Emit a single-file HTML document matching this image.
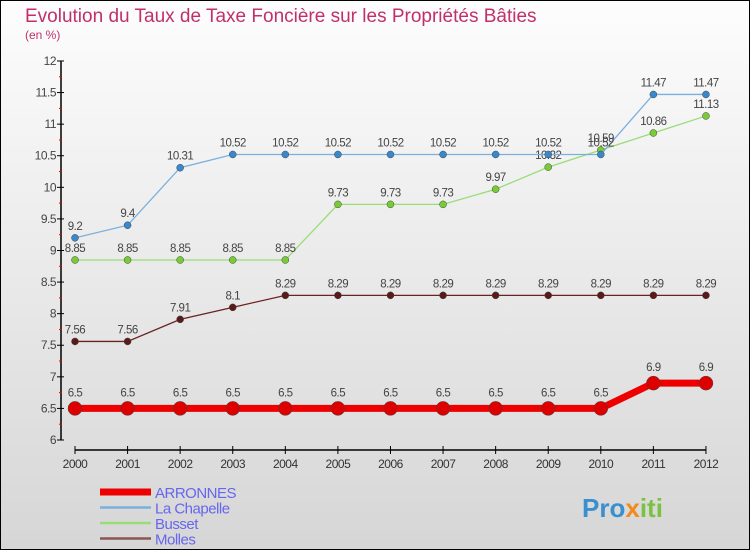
<!DOCTYPE html>
<html><head><meta charset="utf-8"><style>
html,body{margin:0;padding:0}
body{width:750px;height:550px;overflow:hidden;font-family:"Liberation Sans",sans-serif}
svg{display:block}
</style></head><body>
<svg id="chart" width="750" height="550" viewBox="0 0 750 550">
<defs><linearGradient id="bg" x1="0" y1="0" x2="0" y2="1"><stop offset="0" stop-color="#fdfdfd"/><stop offset="1" stop-color="#d6d6d6"/></linearGradient></defs>
<rect x="0.5" y="0.5" width="749" height="549" fill="url(#bg)" stroke="#000"/>
<text x="25" y="22" font-size="19" fill="#c0306a">Evolution du Taux de Taxe Foncière sur les Propriétés Bâties</text>
<text x="25" y="39" font-size="12" fill="#c0306a">(en %)</text>
<g id="axes"></g><g id="series"></g><g id="legend"></g>
<text x="582" y="517" font-size="26" font-weight="bold" fill="#3a8fd0">Pro<tspan fill="#f08a1c">x</tspan><tspan fill="#7cc242">iti</tspan></text>
</svg>
<script>
const years=[2000,2001,2002,2003,2004,2005,2006,2007,2008,2009,2010,2011,2012];
const yTicks=[6,6.5,7,7.5,8,8.5,9,9.5,10,10.5,11,11.5,12];
const arronnes=[6.5,6.5,6.5,6.5,6.5,6.5,6.5,6.5,6.5,6.5,6.5,6.9,6.9];
const laChapelle=[9.2,9.4,10.31,10.52,10.52,10.52,10.52,10.52,10.52,10.52,10.52,11.47,11.47];
const busset=[8.85,8.85,8.85,8.85,8.85,9.73,9.73,9.73,9.97,10.32,10.59,10.86,11.13];
const molles=[7.56,7.56,7.91,8.1,8.29,8.29,8.29,8.29,8.29,8.29,8.29,8.29,8.29];
const seriesNames=["ARRONNES","La Chapelle","Busset","Molles"];
const NS="http://www.w3.org/2000/svg";
const xS=i=>75+i*52.58;
const yS=v=>440-(v-6)*63.17;
function mk(tag,attrs,parent,txt){const e=document.createElementNS(NS,tag);for(const k in attrs)e.setAttribute(k,attrs[k]);if(txt!==undefined)e.textContent=txt;parent.appendChild(e);return e;}
const ax=document.getElementById('axes');
let e=mk('line',{x1:61,y1:yS(12),x2:61,y2:yS(6),stroke:'#000','stroke-width':1.5},ax);


yTicks.forEach((t,i)=>{
 const y=yS(t);
 mk('line',{x1:57,y1:y,x2:64,y2:y,stroke:'#000'},ax);
 if(i<yTicks.length-1) mk('line',{x1:59,y1:yS(t+0.25),x2:62,y2:yS(t+0.25),stroke:'#e00'},ax);
 const l=mk('text',{x:56,y:y+4,'font-size':12,fill:'#444','text-anchor':'end','letter-spacing':'-0.5'},ax,String(t));
 
 
});
e=mk('line',{x1:xS(0),y1:450,x2:xS(12),y2:450,stroke:'#000','stroke-width':1.5},ax);


years.forEach((yr,i)=>{
 mk('line',{x1:xS(i),y1:446,x2:xS(i),y2:454,stroke:'#000'},ax);
 const l=mk('text',{x:xS(i),y:468,'font-size':12,fill:'#333','text-anchor':'middle','letter-spacing':'-0.5'},ax,String(yr));
 
 
});
const sg=document.getElementById('series');
const defs=[[molles,'#6b2222','#5a1a1a',1.3,3.5,'molles'],[busset,'#99dd77','#77cc33',1.3,3.5,'busset'],[laChapelle,'#7ab0dd','#3a88cc',1.3,3.5,'la-chapelle'],[arronnes,'#ee0000','#dd0000',7,7,'arronnes']];
defs.forEach(([vals,lc,pc,w,r,nm])=>{
 const g=mk('g',{},sg);
 
 
 const p=mk('polyline',{points:vals.map((v,i)=>xS(i)+','+yS(v)).join(' '),fill:'none',stroke:lc,'stroke-width':w},g);
 
 
 vals.forEach((v,i)=>{
  const c=mk('circle',{cx:xS(i),cy:yS(v),r:r,fill:pc,stroke:'#444','stroke-width':0.5},g);
  
  
  const t=mk('text',{x:xS(i),y:yS(v)-(nm==='arronnes'?12:8),'font-size':11.5,fill:'#444','text-anchor':'middle','letter-spacing':'-0.5'},g,String(v));
  
  
 });
});
const lg=document.getElementById('legend');
const lcol=['#ee0000','#7ab0dd','#99dd77','#8a5555'];const lw=[7,2.5,2.5,2.5];
seriesNames.forEach((n,i)=>{
 const y=492+i*15.5;
 const s=mk('line',{x1:100,y1:y,x2:151,y2:y,stroke:lcol[i],'stroke-width':lw[i]},lg);
 
 
 const t=mk('text',{x:155,y:y+6,'font-size':15,fill:'#6666ee','letter-spacing':'-0.5'},lg,n);
 
 
});
</script>
</body></html>
